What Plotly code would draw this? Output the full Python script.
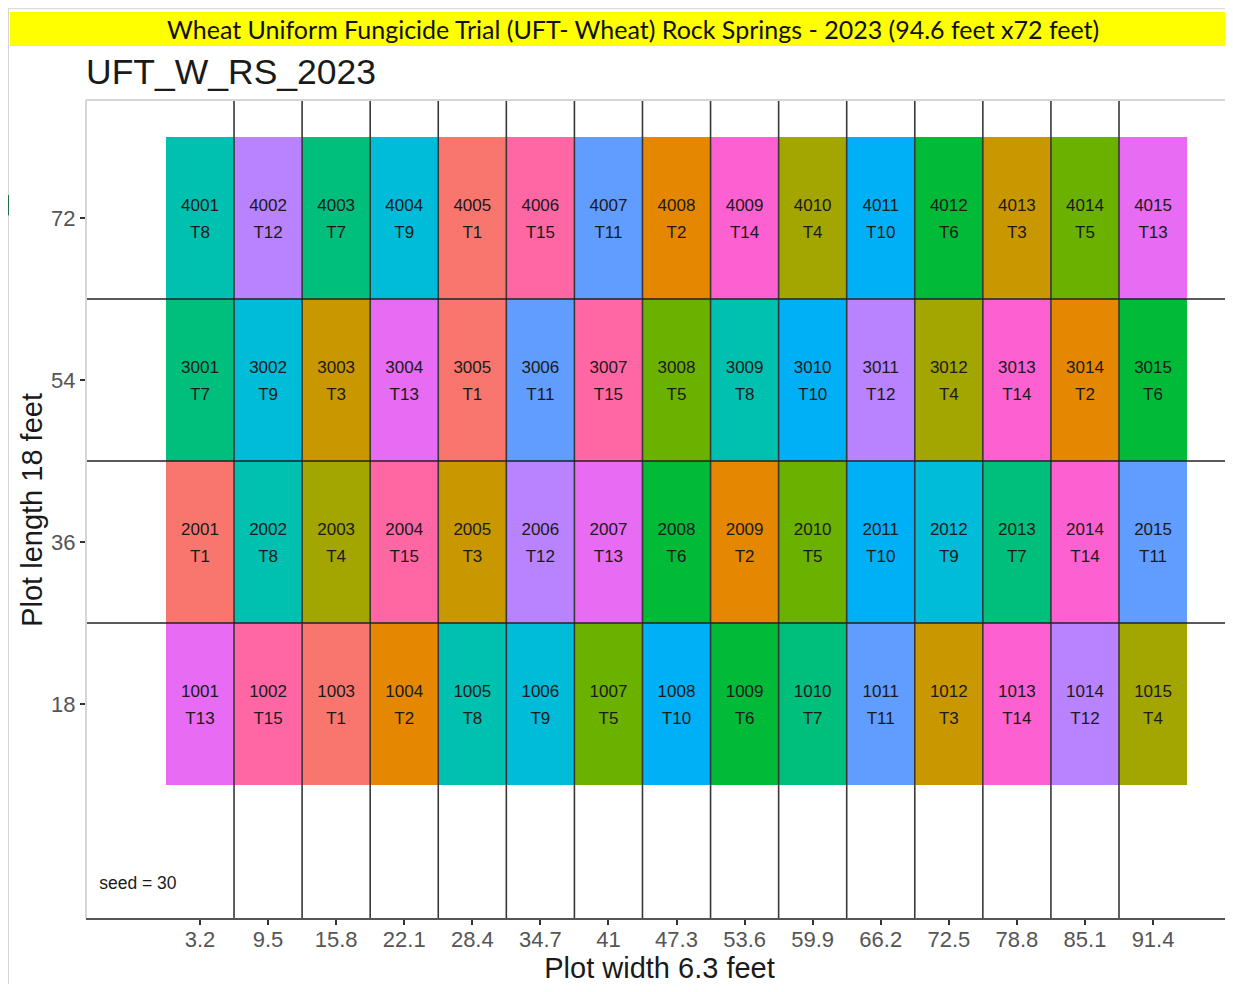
import plotly.graph_objects as go

# ---------------- data ----------------
col_centers = [3.15, 9.45, 15.75, 22.05, 28.35, 34.65, 40.95, 47.25, 53.55, 59.85,
               66.15, 72.45, 78.75, 85.05, 91.35]
col_tick_labels = ["3.2", "9.5", "15.8", "22.1", "28.4", "34.7", "41", "47.3", "53.6",
                   "59.9", "66.2", "72.5", "78.8", "85.1", "91.4"]
col_bounds = [6.3, 12.6, 18.9, 25.2, 31.5, 37.8, 44.1, 50.4, 56.7, 63.0, 69.3, 75.6, 81.9, 88.2]

row_centers = [18, 36, 54, 72]
row_tick_labels = ["18", "36", "54", "72"]
row_bounds = [27, 45, 63]
plot_width = 6.3
plot_length = 18

plots_row1 = [1001, 1002, 1003, 1004, 1005, 1006, 1007, 1008, 1009, 1010, 1011, 1012, 1013, 1014, 1015]
plots_row2 = [2001, 2002, 2003, 2004, 2005, 2006, 2007, 2008, 2009, 2010, 2011, 2012, 2013, 2014, 2015]
plots_row3 = [3001, 3002, 3003, 3004, 3005, 3006, 3007, 3008, 3009, 3010, 3011, 3012, 3013, 3014, 3015]
plots_row4 = [4001, 4002, 4003, 4004, 4005, 4006, 4007, 4008, 4009, 4010, 4011, 4012, 4013, 4014, 4015]

trt_row1 = ["T13", "T15", "T1", "T2", "T8", "T9", "T5", "T10", "T6", "T7", "T11", "T3", "T14", "T12", "T4"]
trt_row2 = ["T1", "T8", "T4", "T15", "T3", "T12", "T13", "T6", "T2", "T5", "T10", "T9", "T7", "T14", "T11"]
trt_row3 = ["T7", "T9", "T3", "T13", "T1", "T11", "T15", "T5", "T8", "T10", "T12", "T4", "T14", "T2", "T6"]
trt_row4 = ["T8", "T12", "T7", "T9", "T1", "T15", "T11", "T2", "T14", "T4", "T10", "T6", "T3", "T5", "T13"]

treatments = ["T1", "T2", "T3", "T4", "T5", "T6", "T7", "T8", "T9", "T10", "T11", "T12", "T13", "T14", "T15"]
trt_colors = ["#F8766D", "#E58700", "#C99800", "#A3A500", "#6BB100", "#00BA38", "#00BF7D", "#00C0AF",
              "#00BCD8", "#00B0F6", "#619CFF", "#B983FF", "#E76BF3", "#FD61D1", "#FF67A4"]

banner_text = "Wheat Uniform Fungicide Trial (UFT- Wheat) Rock Springs - 2023 (94.6 feet x72 feet)"
subtitle = "UFT_W_RS_2023"
seed_note = "seed = 30"
x_title = "Plot width 6.3 feet"
y_title = "Plot length 18 feet"

# ---------------- build ----------------
color_map = dict(zip(treatments, trt_colors))
rows_plots = [plots_row1, plots_row2, plots_row3, plots_row4]
rows_trts = [trt_row1, trt_row2, trt_row3, trt_row4]

xs, ys, bases, cols, plot_txt, trt_txt = [], [], [], [], [], []
for rc, pl, tr in zip(row_centers, rows_plots, rows_trts):
    for cx, p, t in zip(col_centers, pl, tr):
        xs.append(cx)
        ys.append(rc)
        bases.append(rc - plot_length / 2)
        cols.append(color_map[t])
        plot_txt.append(str(p))
        trt_txt.append(t)

fig = go.Figure()
fig.add_trace(go.Bar(
    x=xs, y=[plot_length] * len(xs), base=bases, width=plot_width,
    marker=dict(color=cols, line=dict(width=0)), hoverinfo="skip", showlegend=False,
))

FONT = "Liberation Sans, Arial, Helvetica, sans-serif"
fig.add_trace(go.Scatter(
    x=xs, y=[y + 1.3 for y in ys], mode="text", text=plot_txt,
    textfont=dict(family=FONT, size=17, color="#1a1a1a"), showlegend=False, hoverinfo="skip"))
fig.add_trace(go.Scatter(
    x=xs, y=[y - 1.7 for y in ys], mode="text", text=trt_txt,
    textfont=dict(family=FONT, size=17, color="#1a1a1a"), showlegend=False, hoverinfo="skip"))

fig.add_trace(go.Scatter(
    x=[-2.6], y=[-2.1], mode="text", text=[seed_note],
    textfont=dict(family=FONT, size=17.5, color="#1a1a1a"), showlegend=False, hoverinfo="skip"))

shapes = []
for b in col_bounds:
    shapes.append(dict(type="line", xref="x", yref="paper", x0=b, x1=b, y0=0, y1=1,
                       line=dict(color="#383838", width=1.6), layer="above"))
for b in row_bounds:
    shapes.append(dict(type="line", xref="paper", yref="y", x0=0, x1=1, y0=b, y1=b,
                       line=dict(color="#222222", width=1.3), layer="above"))
# panel border (left + top light grey)
shapes.append(dict(type="line", xref="paper", yref="paper", x0=0, x1=0, y0=0, y1=1,
                   line=dict(color="#d6d6d6", width=2), layer="above"))
shapes.append(dict(type="line", xref="paper", yref="paper", x0=0, x1=1, y0=1, y1=1,
                   line=dict(color="#d6d6d6", width=2), layer="above"))
# yellow banner
shapes.append(dict(type="rect", xref="paper", yref="paper", x0=-0.0663, x1=1.0,
                   y0=1.066, y1=1.1076, fillcolor="#FFFF00", line=dict(width=0), layer="below"))
# outer sheet frame lines
shapes.append(dict(type="line", xref="paper", yref="paper", x0=-0.068, x1=-0.068,
                   y0=-0.1, y1=1.112, line=dict(color="#c8c8c8", width=1.5)))
shapes.append(dict(type="line", xref="paper", yref="paper", x0=-0.068, x1=1.0,
                   y0=1.112, y1=1.112, line=dict(color="#dddddd", width=1.5)))
shapes.append(dict(type="line", xref="paper", yref="paper", x0=-0.068, x1=-0.068,
                   y0=0.859, y1=0.884, line=dict(color="#1e7145", width=2)))

# the page adds an 8px body margin, so the figure is smaller and offset
fig.update_layout(
    width=1225, height=976,
    margin=dict(l=78, r=0, t=92, b=66),
    paper_bgcolor="white", plot_bgcolor="white",
    shapes=shapes,
    bargap=0,
    title=dict(text=subtitle, x=0, xref="paper", xanchor="left", y=1 - 64 / 976, yref="container",
               yanchor="middle", font=dict(family=FONT, size=35.5, color="#1a1a1a")),
    annotations=[
        dict(text=banner_text, xref="paper", yref="paper", x=0.477, y=1.0868,
             xanchor="center", yanchor="middle", showarrow=False,
             font=dict(family="Lato, Carlito, Calibri, sans-serif", size=25, color="#111111")),
        dict(text=y_title, xref="paper", yref="paper", x=-0.0471, y=0.499, textangle=-90,
             xanchor="center", yanchor="middle", showarrow=False,
             font=dict(family=FONT, size=29, color="#1a1a1a")),
    ],
    xaxis=dict(range=[-7.4, 98.75], tickvals=col_centers, ticktext=col_tick_labels,
               showgrid=False, zeroline=False, ticks="outside", ticklen=5, tickwidth=2,
               tickcolor="#333333", showline=True, linecolor="#555555", linewidth=2,
               ticklabelstandoff=-4,
               tickfont=dict(family=FONT, size=22, color="#555555"),
               title=dict(text=x_title, standoff=0,
                          font=dict(family=FONT, size=29, color="#1a1a1a"))),
    yaxis=dict(range=[-5.78, 85.11], tickvals=row_centers, ticktext=row_tick_labels,
               showgrid=False, zeroline=False, ticks="outside", ticklen=5, tickwidth=2,
               tickcolor="#333333", showline=False,
               tickfont=dict(family=FONT, size=22, color="#555555")),
)

fig.write_html("out.html")
